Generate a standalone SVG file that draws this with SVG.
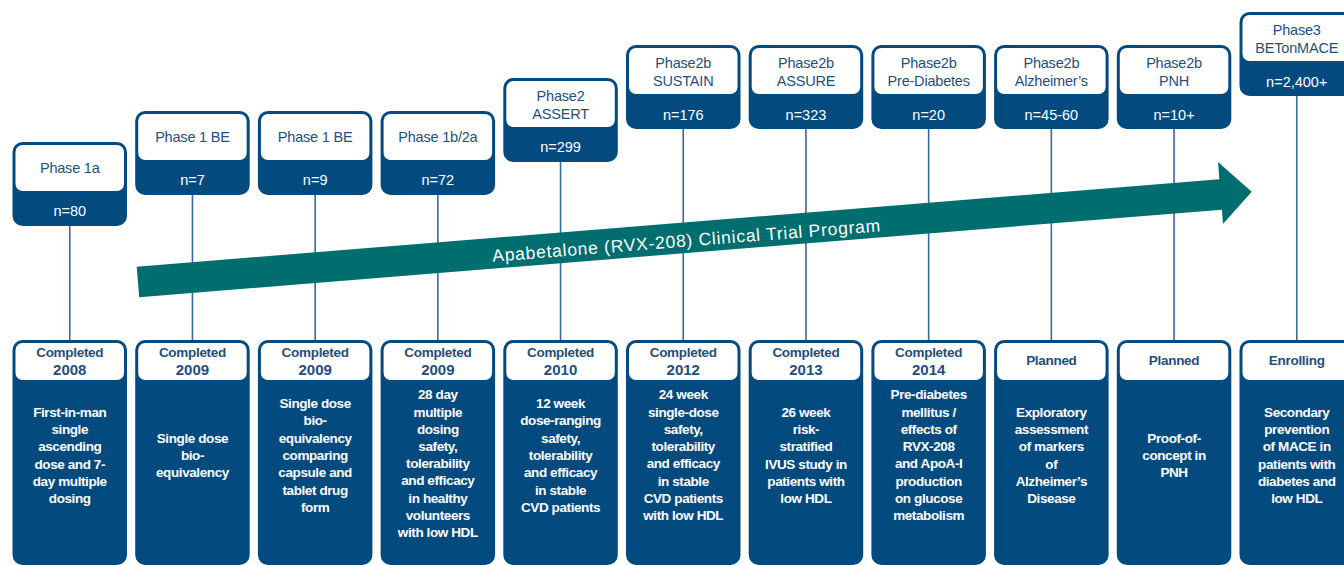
<svg xmlns="http://www.w3.org/2000/svg" width="1344" height="565" viewBox="0 0 1344 565">
<style>
.card{fill:#034b7f;stroke:#034b7f;stroke-width:2}
.hd{fill:#ffffff}
.tt{font-family:"Liberation Sans",Arial,sans-serif;font-size:14.5px;fill:#1e4f7e;text-anchor:middle;letter-spacing:-0.2px}
.nn{font-family:"Liberation Sans",Arial,sans-serif;font-size:14.5px;fill:#ffffff;text-anchor:middle}
.st{font-family:"Liberation Sans",Arial,sans-serif;font-size:13.5px;font-weight:bold;fill:#1e4f7e;text-anchor:middle;letter-spacing:-0.3px}
.yr{font-family:"Liberation Sans",Arial,sans-serif;font-size:15px;font-weight:bold;fill:#1e4f7e;text-anchor:middle}
.bd{font-family:"Liberation Sans",Arial,sans-serif;font-size:13.5px;font-weight:bold;fill:#ffffff;text-anchor:middle;letter-spacing:-0.4px}
.ln{stroke:#3a6898;stroke-width:1.6;fill:none}
.ar{fill:#006d6f}
.at{font-family:"Liberation Sans",Arial,sans-serif;font-size:17.5px;fill:#ffffff;letter-spacing:0.75px;text-anchor:middle}
</style>
<rect width="1344" height="565" fill="#ffffff"/>
<g id="connectors">
<line class="ln" x1="69.75" y1="225" x2="69.75" y2="341"/>
<line class="ln" x1="192.45" y1="194" x2="192.45" y2="341"/>
<line class="ln" x1="315.15" y1="194" x2="315.15" y2="341"/>
<line class="ln" x1="437.85" y1="194" x2="437.85" y2="341"/>
<line class="ln" x1="560.55" y1="161" x2="560.55" y2="341"/>
<line class="ln" x1="683.25" y1="128" x2="683.25" y2="341"/>
<line class="ln" x1="805.95" y1="128" x2="805.95" y2="341"/>
<line class="ln" x1="928.65" y1="128" x2="928.65" y2="341"/>
<line class="ln" x1="1051.35" y1="128" x2="1051.35" y2="341"/>
<line class="ln" x1="1174.05" y1="128" x2="1174.05" y2="341"/>
<line class="ln" x1="1296.75" y1="95" x2="1296.75" y2="341"/>
</g>
<g id="arrow">
<path class="ar" d="M136.7,266.7 L1219.4,179.2 L1218,162 L1251.7,191.7 L1223,224 L1221.9,209.7 L139.2,297.3 Z"/>
<text class="at" x="687" y="246.5" transform="rotate(-4.5 687 246.5)">Apabetalone (RVX-208) Clinical Trial Program</text>
</g>
<!-- top cards -->
<g id="top1"><rect class="card" x="13.5" y="143" width="112.5" height="82" rx="9"/><rect class="hd" x="15.5" y="145" width="108.5" height="46" rx="7"/>
<text class="tt" x="69.75" y="172.5">Phase 1a</text><text class="nn" x="69.75" y="215.5">n=80</text></g>
<g id="top2"><rect class="card" x="136.2" y="112" width="112.5" height="82" rx="9"/><rect class="hd" x="138.2" y="114" width="108.5" height="46" rx="7"/>
<text class="tt" x="192.45" y="141.5">Phase 1 BE</text><text class="nn" x="192.45" y="184.5">n=7</text></g>
<g id="top3"><rect class="card" x="258.9" y="112" width="112.5" height="82" rx="9"/><rect class="hd" x="260.9" y="114" width="108.5" height="46" rx="7"/>
<text class="tt" x="315.15" y="141.5">Phase 1 BE</text><text class="nn" x="315.15" y="184.5">n=9</text></g>
<g id="top4"><rect class="card" x="381.6" y="112" width="112.5" height="82" rx="9"/><rect class="hd" x="383.6" y="114" width="108.5" height="46" rx="7"/>
<text class="tt" x="437.85" y="141.5">Phase 1b/2a</text><text class="nn" x="437.85" y="184.5">n=72</text></g>
<g id="top5"><rect class="card" x="504.3" y="79" width="112.5" height="82" rx="9"/><rect class="hd" x="506.3" y="81" width="108.5" height="46" rx="7"/>
<text class="tt" x="560.55" y="101">Phase2</text><text class="tt" x="560.55" y="119">ASSERT</text><text class="nn" x="560.55" y="151.5">n=299</text></g>
<g id="top6"><rect class="card" x="627" y="46" width="112.5" height="82" rx="9"/><rect class="hd" x="629" y="48" width="108.5" height="46" rx="7"/>
<text class="tt" x="683.25" y="68">Phase2b</text><text class="tt" x="683.25" y="86">SUSTAIN</text><text class="nn" x="683.25" y="119.5">n=176</text></g>
<g id="top7"><rect class="card" x="749.7" y="46" width="112.5" height="82" rx="9"/><rect class="hd" x="751.7" y="48" width="108.5" height="46" rx="7"/>
<text class="tt" x="805.95" y="68">Phase2b</text><text class="tt" x="805.95" y="86">ASSURE</text><text class="nn" x="805.95" y="119.5">n=323</text></g>
<g id="top8"><rect class="card" x="872.4" y="46" width="112.5" height="82" rx="9"/><rect class="hd" x="874.4" y="48" width="108.5" height="46" rx="7"/>
<text class="tt" x="928.65" y="68">Phase2b</text><text class="tt" x="928.65" y="86">Pre-Diabetes</text><text class="nn" x="928.65" y="119.5">n=20</text></g>
<g id="top9"><rect class="card" x="995.1" y="46" width="112.5" height="82" rx="9"/><rect class="hd" x="997.1" y="48" width="108.5" height="46" rx="7"/>
<text class="tt" x="1051.35" y="68">Phase2b</text><text class="tt" x="1051.35" y="86">Alzheimer’s</text><text class="nn" x="1051.35" y="119.5">n=45-60</text></g>
<g id="top10"><rect class="card" x="1117.8" y="46" width="112.5" height="82" rx="9"/><rect class="hd" x="1119.8" y="48" width="108.5" height="46" rx="7"/>
<text class="tt" x="1174.05" y="68">Phase2b</text><text class="tt" x="1174.05" y="86">PNH</text><text class="nn" x="1174.05" y="119.5">n=10+</text></g>
<g id="top11"><rect class="card" x="1240.5" y="13" width="112.5" height="82" rx="9"/><rect class="hd" x="1242.5" y="15" width="108.5" height="46" rx="7"/>
<text class="tt" x="1296.75" y="35">Phase3</text><text class="tt" x="1296.75" y="53">BETonMACE</text><text class="nn" x="1296.75" y="86.5">n=2,400+</text></g>
<!-- bottom cards -->
<g id="bot1"><rect class="card" x="13.5" y="341" width="112.5" height="223" rx="9"/><rect class="hd" x="15.5" y="343" width="108.5" height="37" rx="7"/>
<text class="st" x="69.75" y="357.3">Completed</text><text class="yr" x="69.75" y="374.5">2008</text>
<text class="bd" x="69.75" y="416.8"><tspan x="69.75">First-in-man</tspan><tspan x="69.75" dy="17.3">single</tspan><tspan x="69.75" dy="17.3">ascending</tspan><tspan x="69.75" dy="17.3">dose and 7-</tspan><tspan x="69.75" dy="17.3">day multiple</tspan><tspan x="69.75" dy="17.3">dosing</tspan></text></g>
<g id="bot2"><rect class="card" x="136.2" y="341" width="112.5" height="223" rx="9"/><rect class="hd" x="138.2" y="343" width="108.5" height="37" rx="7"/>
<text class="st" x="192.45" y="357.3">Completed</text><text class="yr" x="192.45" y="374.5">2009</text>
<text class="bd" x="192.45" y="442.7"><tspan x="192.45">Single dose</tspan><tspan x="192.45" dy="17.3">bio-</tspan><tspan x="192.45" dy="17.3">equivalency</tspan></text></g>
<g id="bot3"><rect class="card" x="258.9" y="341" width="112.5" height="223" rx="9"/><rect class="hd" x="260.9" y="343" width="108.5" height="37" rx="7"/>
<text class="st" x="315.15" y="357.3">Completed</text><text class="yr" x="315.15" y="374.5">2009</text>
<text class="bd" x="315.15" y="408.1"><tspan x="315.15">Single dose</tspan><tspan x="315.15" dy="17.3">bio-</tspan><tspan x="315.15" dy="17.3">equivalency</tspan><tspan x="315.15" dy="17.3">comparing</tspan><tspan x="315.15" dy="17.3">capsule and</tspan><tspan x="315.15" dy="17.3">tablet drug</tspan><tspan x="315.15" dy="17.3">form</tspan></text></g>
<g id="bot4"><rect class="card" x="381.6" y="341" width="112.5" height="223" rx="9"/><rect class="hd" x="383.6" y="343" width="108.5" height="37" rx="7"/>
<text class="st" x="437.85" y="357.3">Completed</text><text class="yr" x="437.85" y="374.5">2009</text>
<text class="bd" x="437.85" y="399.3"><tspan x="437.85">28 day</tspan><tspan x="437.85" dy="17.2">multiple</tspan><tspan x="437.85" dy="17.2">dosing</tspan><tspan x="437.85" dy="17.2">safety,</tspan><tspan x="437.85" dy="17.2">tolerability</tspan><tspan x="437.85" dy="17.2">and efficacy</tspan><tspan x="437.85" dy="17.2">in healthy</tspan><tspan x="437.85" dy="17.2">volunteers</tspan><tspan x="437.85" dy="17.2">with low HDL</tspan></text></g>
<g id="bot5"><rect class="card" x="504.3" y="341" width="112.5" height="223" rx="9"/><rect class="hd" x="506.3" y="343" width="108.5" height="37" rx="7"/>
<text class="st" x="560.55" y="357.3">Completed</text><text class="yr" x="560.55" y="374.5">2010</text>
<text class="bd" x="560.55" y="408.1"><tspan x="560.55">12 week</tspan><tspan x="560.55" dy="17.3">dose-ranging</tspan><tspan x="560.55" dy="17.3">safety,</tspan><tspan x="560.55" dy="17.3">tolerability</tspan><tspan x="560.55" dy="17.3">and efficacy</tspan><tspan x="560.55" dy="17.3">in stable</tspan><tspan x="560.55" dy="17.3">CVD patients</tspan></text></g>
<g id="bot6"><rect class="card" x="627" y="341" width="112.5" height="223" rx="9"/><rect class="hd" x="629" y="343" width="108.5" height="37" rx="7"/>
<text class="st" x="683.25" y="357.3">Completed</text><text class="yr" x="683.25" y="374.5">2012</text>
<text class="bd" x="683.25" y="399.3"><tspan x="683.25">24 week</tspan><tspan x="683.25" dy="17.25">single-dose</tspan><tspan x="683.25" dy="17.25">safety,</tspan><tspan x="683.25" dy="17.25">tolerability</tspan><tspan x="683.25" dy="17.25">and efficacy</tspan><tspan x="683.25" dy="17.25">in stable</tspan><tspan x="683.25" dy="17.25">CVD patients</tspan><tspan x="683.25" dy="17.25">with low HDL</tspan></text></g>
<g id="bot7"><rect class="card" x="749.7" y="341" width="112.5" height="223" rx="9"/><rect class="hd" x="751.7" y="343" width="108.5" height="37" rx="7"/>
<text class="st" x="805.95" y="357.3">Completed</text><text class="yr" x="805.95" y="374.5">2013</text>
<text class="bd" x="805.95" y="416.8"><tspan x="805.95">26 week</tspan><tspan x="805.95" dy="17.3">risk-</tspan><tspan x="805.95" dy="17.3">stratified</tspan><tspan x="805.95" dy="17.3">IVUS study in</tspan><tspan x="805.95" dy="17.3">patients with</tspan><tspan x="805.95" dy="17.3">low HDL</tspan></text></g>
<g id="bot8"><rect class="card" x="872.4" y="341" width="112.5" height="223" rx="9"/><rect class="hd" x="874.4" y="343" width="108.5" height="37" rx="7"/>
<text class="st" x="928.65" y="357.3">Completed</text><text class="yr" x="928.65" y="374.5">2014</text>
<text class="bd" x="928.65" y="399.3"><tspan x="928.65">Pre-diabetes</tspan><tspan x="928.65" dy="17.25">mellitus /</tspan><tspan x="928.65" dy="17.25">effects of</tspan><tspan x="928.65" dy="17.25">RVX-208</tspan><tspan x="928.65" dy="17.25">and ApoA-I</tspan><tspan x="928.65" dy="17.25">production</tspan><tspan x="928.65" dy="17.25">on glucose</tspan><tspan x="928.65" dy="17.25">metabolism</tspan></text></g>
<g id="bot9"><rect class="card" x="995.1" y="341" width="112.5" height="223" rx="9"/><rect class="hd" x="997.1" y="343" width="108.5" height="37" rx="7"/>
<text class="st" x="1051.35" y="365">Planned</text>
<text class="bd" x="1051.35" y="416.8"><tspan x="1051.35">Exploratory</tspan><tspan x="1051.35" dy="17.3">assessment</tspan><tspan x="1051.35" dy="17.3">of markers</tspan><tspan x="1051.35" dy="17.3">of</tspan><tspan x="1051.35" dy="17.3">Alzheimer’s</tspan><tspan x="1051.35" dy="17.3">Disease</tspan></text></g>
<g id="bot10"><rect class="card" x="1117.8" y="341" width="112.5" height="223" rx="9"/><rect class="hd" x="1119.8" y="343" width="108.5" height="37" rx="7"/>
<text class="st" x="1174.05" y="365">Planned</text>
<text class="bd" x="1174.05" y="442.7"><tspan x="1174.05">Proof-of-</tspan><tspan x="1174.05" dy="17.3">concept in</tspan><tspan x="1174.05" dy="17.3">PNH</tspan></text></g>
<g id="bot11"><rect class="card" x="1240.5" y="341" width="112.5" height="223" rx="9"/><rect class="hd" x="1242.5" y="343" width="108.5" height="37" rx="7"/>
<text class="st" x="1296.75" y="365">Enrolling</text>
<text class="bd" x="1296.75" y="416.8"><tspan x="1296.75">Secondary</tspan><tspan x="1296.75" dy="17.3">prevention</tspan><tspan x="1296.75" dy="17.3">of MACE in</tspan><tspan x="1296.75" dy="17.3">patients with</tspan><tspan x="1296.75" dy="17.3">diabetes and</tspan><tspan x="1296.75" dy="17.3">low HDL</tspan></text></g>
</svg>
